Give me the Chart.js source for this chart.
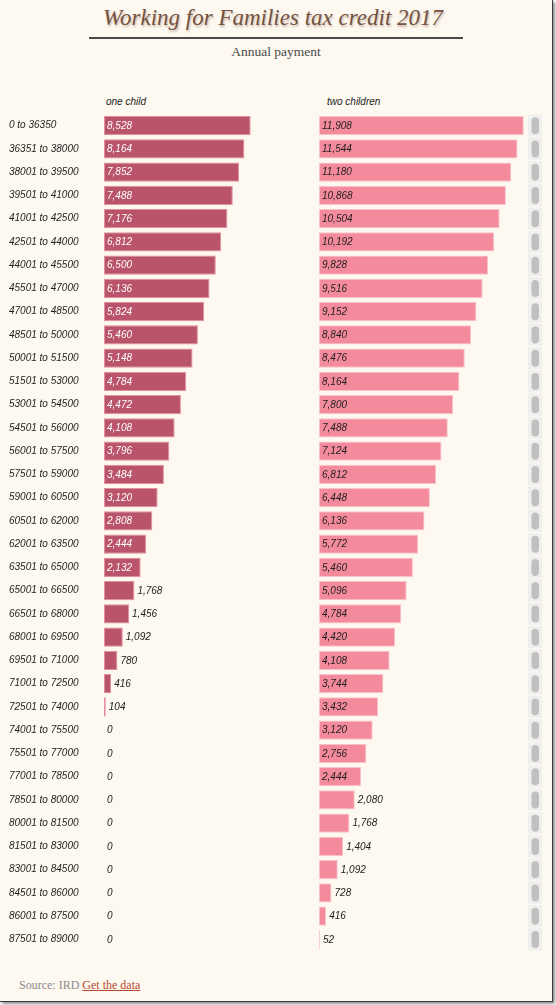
<!DOCTYPE html>
<html>
<head>
<meta charset="utf-8">
<script src="https://cdn.jsdelivr.net/npm/chart.js@4/dist/chart.umd.min.js"></script>
<style>
  html, body { margin: 0; padding: 0; background: #ffffff; }
  #frame {
    position: absolute; left: 0; top: 0; width: 552px; height: 1001px;
    background: #fdf8f0; border-right: 1px solid #3a3a3a; border-bottom: 1px solid #3a3a3a;
    box-shadow: 2px 2px 3px rgba(0,0,0,0.45); overflow: hidden;
  }
  #title {
    position: absolute; left: 0; top: 5px; width: 546px; text-align: center;
    font-family: "Liberation Serif", serif; font-style: italic; font-size: 23px;
    color: #74523f; text-shadow: 1px 2px 2px rgba(90,50,30,0.3); white-space: nowrap;
  }
  #rule { position: absolute; left: 89px; top: 37px; width: 374px; height: 2px; background: #4a4a4a; }
  #subtitle {
    position: absolute; left: 0; top: 44px; width: 552px; text-align: center;
    font-family: "Liberation Serif", serif; font-size: 13.5px; color: #4a4a4a;
  }
  .hdr {
    position: absolute; top: 96px; font-family: "Liberation Sans", sans-serif;
    font-style: italic; font-size: 10px; color: #222;
  }
  #footer {
    position: absolute; left: 19px; top: 978px; font-family: "Liberation Serif", serif;
    font-size: 12px; color: #8a8a8a;
  }
  #footer a { color: #b5492f; text-decoration: underline; }
  #wrap { position: absolute; left: 0; top: 108px; width: 548px; height: 849px; }
</style>
</head>
<body>
<div id="frame">
  <div id="title">Working for Families tax credit 2017</div>
  <div id="rule"></div>
  <div id="subtitle">Annual payment</div>
  <div class="hdr" style="left:106px">one child</div>
  <div class="hdr" style="left:327px">two children</div>
  <div id="wrap"><canvas id="c"></canvas></div>
  <div id="footer">Source: IRD <a href="#">Get the data</a></div>
</div>
<script>
const incomeBands = [
  "0 to 36350", "36351 to 38000", "38001 to 39500", "39501 to 41000", "41001 to 42500",
  "42501 to 44000", "44001 to 45500", "45501 to 47000", "47001 to 48500", "48501 to 50000",
  "50001 to 51500", "51501 to 53000", "53001 to 54500", "54501 to 56000", "56001 to 57500",
  "57501 to 59000", "59001 to 60500", "60501 to 62000", "62001 to 63500", "63501 to 65000",
  "65001 to 66500", "66501 to 68000", "68001 to 69500", "69501 to 71000", "71001 to 72500",
  "72501 to 74000", "74001 to 75500", "75501 to 77000", "77001 to 78500", "78501 to 80000",
  "80001 to 81500", "81501 to 83000", "83001 to 84500", "84501 to 86000", "86001 to 87500",
  "87501 to 89000"
];
const oneChild = [
  8528, 8164, 7852, 7488, 7176, 6812, 6500, 6136, 5824, 5460,
  5148, 4784, 4472, 4108, 3796, 3484, 3120, 2808, 2444, 2132,
  1768, 1456, 1092, 780, 416, 104, 0, 0, 0, 0,
  0, 0, 0, 0, 0, 0
];
const twoChildren = [
  11908, 11544, 11180, 10868, 10504, 10192, 9828, 9516, 9152, 8840,
  8476, 8164, 7800, 7488, 7124, 6812, 6448, 6136, 5772, 5460,
  5096, 4784, 4420, 4108, 3744, 3432, 3120, 2756, 2444, 2080,
  1768, 1404, 1092, 728, 416, 52
];
const panelMax = 12500;

const labelFont = 'italic 10px "Liberation Sans", sans-serif';

const valueLabels = {
  id: 'valueLabels',
  afterDatasetsDraw(chart) {
    const ctx = chart.ctx;
    ctx.save();
    ctx.font = labelFont;
    ctx.textBaseline = 'middle';
    ctx.textAlign = 'left';
    chart.data.datasets.forEach((ds, di) => {
      const meta = chart.getDatasetMeta(di);
      meta.data.forEach((el, i) => {
        const v = ds.data[i];
        const txt = v.toLocaleString('en-US');
        const w = el.x - el.base;
        if (w > 36.2) {
          ctx.fillStyle = ds.insideColor;
          ctx.fillText(txt, el.base + 3, el.y + 0.5);
        } else {
          ctx.fillStyle = '#222';
          ctx.fillText(txt, el.x + 3, el.y + 0.5);
        }
      });
    });
    ctx.restore();
  }
};

const rowSliders = {
  id: 'rowSliders',
  afterDraw(chart) {
    const ctx = chart.ctx;
    const ys = chart.scales.y;
    ctx.save();
    incomeBands.forEach((b, i) => {
      const y = ys.getPixelForValue(i);
      ctx.fillStyle = '#efefee';
      ctx.fillRect(528, y - 11, 14, 22);
      ctx.fillStyle = '#c0c0c0';
      ctx.beginPath();
      ctx.roundRect(531.5, y - 8.5, 7.5, 17, 3.75);
      ctx.fill();
    });
    ctx.restore();
  }
};

new Chart(document.getElementById('c'), {
  type: 'bar',
  data: {
    labels: incomeBands,
    datasets: [
      {
        label: 'one child', data: oneChild, xAxisID: 'x1',
        backgroundColor: '#b9546a', borderColor: '#e3909e',
        borderWidth: c => (c.raw > 0 ? 1 : 0), borderSkipped: false,
        insideColor: '#ffffff'
      },
      {
        label: 'two children', data: twoChildren, xAxisID: 'x2',
        backgroundColor: '#f48b9d', borderColor: '#f9c3cb',
        borderWidth: c => (c.raw > 0 ? 1 : 0), borderSkipped: false,
        insideColor: '#1e1e1e'
      }
    ]
  },
  options: {
    indexAxis: 'y',
    responsive: true,
    maintainAspectRatio: false,
    animation: false,
    layout: { padding: { left: 9, right: 14, top: 0, bottom: 0 } },
    datasets: { bar: { grouped: false, categoryPercentage: 1, barPercentage: 0.82 } },
    plugins: { legend: { display: false }, tooltip: { enabled: false } },
    scales: {
      y: {
        type: 'category',
        position: 'left',
        offset: true,
        grid: { display: false },
        border: { display: false },
        ticks: {
          autoSkip: false, crossAlign: 'far', padding: 0, color: '#1e1e1e',
          font: { family: '"Liberation Sans", sans-serif', style: 'italic', size: 10 }
        },
        afterFit: s => { s.width = 95; }
      },
      x1: { type: 'linear', display: false, min: 0, max: panelMax * 2 },
      x2: { type: 'linear', display: false, min: -panelMax, max: panelMax }
    }
  },
  plugins: [valueLabels, rowSliders]
});
</script>
</body>
</html>
